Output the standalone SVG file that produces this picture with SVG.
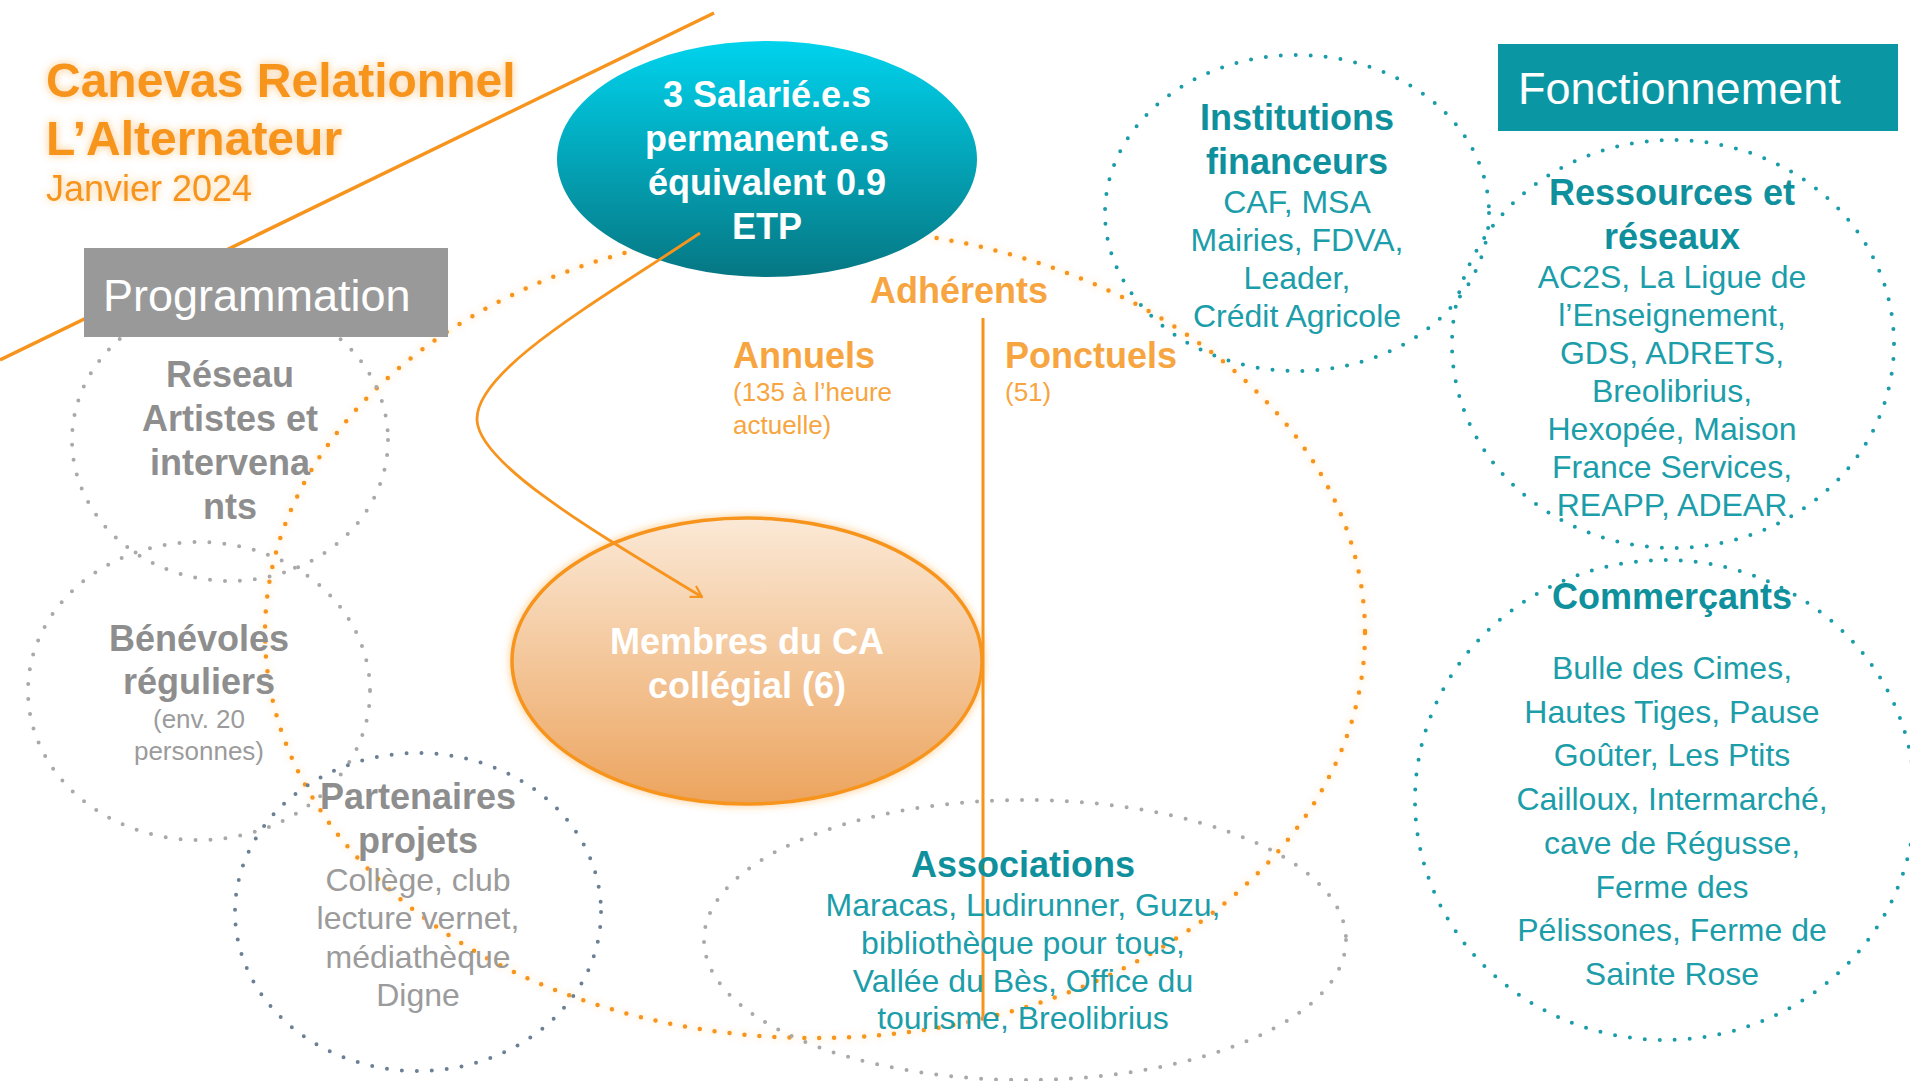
<svg xmlns="http://www.w3.org/2000/svg" width="1910" height="1081" viewBox="0 0 1910 1081">
<defs>
  <linearGradient id="gTeal" x1="0" y1="0" x2="0" y2="1">
    <stop offset="0" stop-color="#00D3ED"/>
    <stop offset="1" stop-color="#067783"/>
  </linearGradient>
  <linearGradient id="gOrange" x1="0" y1="0" x2="0" y2="1">
    <stop offset="0" stop-color="#FBE9D6"/>
    <stop offset="1" stop-color="#ECA45E"/>
  </linearGradient>
  <filter id="oglow" x="-20%" y="-20%" width="140%" height="140%">
    <feGaussianBlur in="SourceAlpha" stdDeviation="4" result="blur"/>
    <feFlood flood-color="#F7941D" flood-opacity="0.5"/>
    <feComposite in2="blur" operator="in" result="glow"/>
    <feMerge><feMergeNode in="glow"/><feMergeNode in="SourceGraphic"/></feMerge>
  </filter>
  <filter id="dglow" x="-10%" y="-10%" width="120%" height="120%">
    <feGaussianBlur in="SourceAlpha" stdDeviation="3.5" result="blur"/>
    <feFlood flood-color="#F7941D" flood-opacity="0.45"/>
    <feComposite in2="blur" operator="in" result="glow"/>
    <feMerge><feMergeNode in="glow"/><feMergeNode in="SourceGraphic"/></feMerge>
  </filter>
  <marker id="arrow" viewBox="0 0 20 20" refX="17" refY="10" markerWidth="18" markerHeight="18" orient="auto" markerUnits="userSpaceOnUse">
    <path d="M5,3 L17,10 L5,17" fill="none" stroke="#F7941D" stroke-width="2.5" stroke-linejoin="round"/>
  </marker>
</defs>
<style>
  text { font-family: "Liberation Sans", Arial, Helvetica, sans-serif; }
  .c { text-anchor: middle; }
  .h { font-size: 36px; font-weight: bold; }
  .bd { font-size: 32px; }
  .sm { font-size: 26px; }
  .dot { fill: none; stroke-linecap: round; stroke-dasharray: 0 15; stroke-width: 4; }
  .dg { stroke: #A9A9A9; }
  .dt { stroke: #1A9CA9; }
  .ds { stroke: #6B8095; }
  .do { stroke: #F7941D; stroke-width: 4.5; }
  .grayh { fill: #8E8E8E; }
  .gray { fill: #9B9B9B; }
  .tealh { fill: #0F909D; }
  .teal { fill: #1C9DAA; }
  .org { fill: #F7A540; }
  .wh { fill: #FFFFFF; }
  .oline { stroke: #F7941D; fill: none; }
</style>

<g id="decor">
  <line class="oline" x1="0" y1="360" x2="714" y2="13" stroke-width="3.5"/>
</g>

<g id="adherents">
  <ellipse class="dot do" cx="815" cy="633" rx="550" ry="405" filter="url(#dglow)"/>
  <line class="oline" x1="983" y1="318" x2="983" y2="1017" stroke-width="3"/>
  <text class="h org c" x="959" y="303">Adhérents</text>
</g>

<g id="annuels">
  <text class="h org" x="733" y="368">Annuels</text>
  <text class="sm org" x="733" y="401">(135 à l’heure</text>
  <text class="sm org" x="733" y="434">actuelle)</text>
</g>

<g id="ponctuels">
  <text class="h org" x="1005" y="368">Ponctuels</text>
  <text class="sm org" x="1005" y="401">(51)</text>
</g>

<g id="reseau">
  <ellipse class="dot dg" cx="230" cy="440" rx="158" ry="141"/>
  <text class="h grayh c" x="230" y="387">Réseau</text>
  <text class="h grayh c" x="230" y="431">Artistes et</text>
  <text class="h grayh c" x="230" y="475">intervena</text>
  <text class="h grayh c" x="230" y="519">nts</text>
</g>

<g id="benevoles">
  <ellipse class="dot dg" cx="199" cy="691" rx="171" ry="149"/>
  <text class="h grayh c" x="199" y="651">Bénévoles</text>
  <text class="h grayh c" x="199" y="694">réguliers</text>
  <text class="sm gray c" x="199" y="728">(env. 20</text>
  <text class="sm gray c" x="199" y="760">personnes)</text>
</g>

<g id="partenaires">
  <ellipse class="dot ds" cx="418" cy="912" rx="183" ry="159"/>
  <text class="h grayh c" x="418" y="809">Partenaires</text>
  <text class="h grayh c" x="418" y="853">projets</text>
  <text class="bd gray c" x="418" y="891">Collège, club</text>
  <text class="bd gray c" x="418" y="929">lecture vernet,</text>
  <text class="bd gray c" x="418" y="968">médiathèque</text>
  <text class="bd gray c" x="418" y="1006">Digne</text>
</g>

<g id="associations">
  <ellipse class="dot dg" cx="1025" cy="940" rx="321" ry="140"/>
  <text class="h tealh c" x="1023" y="877">Associations</text>
  <text class="bd teal c" x="1023" y="916">Maracas, Ludirunner, Guzu,</text>
  <text class="bd teal c" x="1023" y="954">bibliothèque pour tous,</text>
  <text class="bd teal c" x="1023" y="992">Vallée du Bès, Office du</text>
  <text class="bd teal c" x="1023" y="1029">tourisme, Breolibrius</text>
</g>

<g id="institutions">
  <ellipse class="dot dt" cx="1297" cy="213" rx="192" ry="158"/>
  <text class="h tealh c" x="1297" y="130">Institutions</text>
  <text class="h tealh c" x="1297" y="174">financeurs</text>
  <text class="bd teal c" x="1297" y="213">CAF, MSA</text>
  <text class="bd teal c" x="1297" y="251">Mairies, FDVA,</text>
  <text class="bd teal c" x="1297" y="289">Leader,</text>
  <text class="bd teal c" x="1297" y="327">Crédit Agricole</text>
</g>

<g id="ressources">
  <ellipse class="dot dt" cx="1673" cy="344" rx="221" ry="204"/>
  <text class="h tealh c" x="1672" y="205">Ressources et</text>
  <text class="h tealh c" x="1672" y="249">réseaux</text>
  <text class="bd teal c" x="1672" y="288">AC2S, La Ligue de</text>
  <text class="bd teal c" x="1672" y="326">l’Enseignement,</text>
  <text class="bd teal c" x="1672" y="364">GDS, ADRETS,</text>
  <text class="bd teal c" x="1672" y="402">Breolibrius,</text>
  <text class="bd teal c" x="1672" y="440">Hexopée, Maison</text>
  <text class="bd teal c" x="1672" y="478">France Services,</text>
  <text class="bd teal c" x="1672" y="516">REAPP, ADEAR</text>
</g>

<g id="commercants">
  <ellipse class="dot dt" cx="1665" cy="800" rx="250" ry="240"/>
  <text class="h tealh c" x="1672" y="609">Commerçants</text>
  <text class="bd teal c" x="1672" y="679">Bulle des Cimes,</text>
  <text class="bd teal c" x="1672" y="723">Hautes Tiges, Pause</text>
  <text class="bd teal c" x="1672" y="766">Goûter, Les Ptits</text>
  <text class="bd teal c" x="1672" y="810">Cailloux, Intermarché,</text>
  <text class="bd teal c" x="1672" y="854">cave de Régusse,</text>
  <text class="bd teal c" x="1672" y="898">Ferme des</text>
  <text class="bd teal c" x="1672" y="941">Pélissones, Ferme de</text>
  <text class="bd teal c" x="1672" y="985">Sainte Rose</text>
</g>

<g id="programmation">
  <rect x="84" y="248" width="364" height="89" fill="#999999"/>
  <text class="wh" x="103" y="311" font-size="45">Programmation</text>
</g>

<g id="fonctionnement">
  <rect x="1498" y="44" width="400" height="87" fill="#0A96A3"/>
  <text class="wh" x="1518" y="104" font-size="45">Fonctionnement</text>
</g>

<g id="salaries">
  <ellipse cx="767" cy="159" rx="210" ry="118" fill="url(#gTeal)"/>
  <text class="h wh c" x="767" y="107">3 Salarié.e.s</text>
  <text class="h wh c" x="767" y="151">permanent.e.s</text>
  <text class="h wh c" x="767" y="195">équivalent 0.9</text>
  <text class="h wh c" x="767" y="239">ETP</text>
</g>

<g id="ca">
  <ellipse cx="747" cy="661" rx="235" ry="143" fill="url(#gOrange)" stroke="#F7941D" stroke-width="3.5" filter="url(#oglow)"/>
  <text class="h wh c" x="747" y="654">Membres du CA</text>
  <text class="h wh c" x="747" y="698">collégial (6)</text>
</g>

<g id="connectors">
  <path class="oline" d="M700,233 C600,300 475,370 477,420 C479,465 600,535 702,597" stroke-width="2.8" marker-end="url(#arrow)"/>
</g>

<g id="title" filter="url(#oglow)">
  <text x="46" y="97" font-size="48" font-weight="bold" fill="#F7941D">Canevas Relationnel</text>
  <text x="46" y="155" font-size="48" font-weight="bold" fill="#F7941D">L’Alternateur</text>
  <text x="46" y="201" font-size="36" fill="#F7941D">Janvier 2024</text>
</g>
</svg>
